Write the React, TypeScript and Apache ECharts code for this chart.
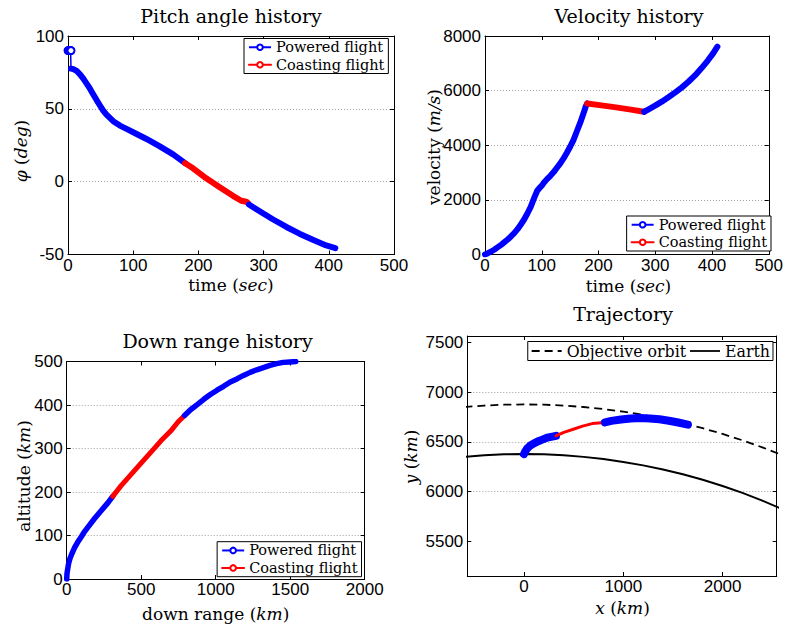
import React, { useEffect, useRef } from 'react';
import * as echarts from 'echarts';

// ---- Pitch angle history: time (s) vs pitch angle (deg) ----
const pitchLiftoffT = [0, 1, 2, 3, 4, 4.6, 4.6];
const pitchLiftoffPhi = [90, 90, 90, 90, 90, 90, 77.6];
const pitchPowered1T = [4.6, 8.2, 13.3, 18.4, 23.5, 28.6, 33.7, 38.8, 43.9, 49, 54, 59, 69.4, 79.6, 89.8, 100, 120.4, 140.8, 161.2, 179.6];
const pitchPowered1Phi = [77.6, 77.2, 76, 73.7, 70.7, 67.3, 63.8, 59.9, 56, 52.3, 48.8, 46, 41.5, 38.5, 36.2, 33.9, 29.3, 24.2, 18.7, 12.7];
const pitchCoastT = [179.6, 191.8, 212, 232.7, 253, 265.8, 273.5, 276];
const pitchCoastPhi = [12.7, 9.2, 2.3, -3.9, -9.7, -13.1, -13.8, -14.6];
const pitchPowered2T = [277.5, 294, 314, 335, 355, 375.5, 396, 410];
const pitchPowered2Phi = [-15.7, -20.3, -25.8, -31.1, -35.7, -39.9, -43.8, -45.6];

// ---- Velocity history: time (s) vs velocity (m/s) ----
const velPowered1T = [0, 5.2, 11, 16.8, 22.6, 28.4, 34.2, 40, 45.7, 51.5, 57.3, 63.1, 68.9, 74.7, 80.5, 86.3, 92, 97.9, 100.8, 103.6, 109.3, 115.2, 121, 126.7, 132.6, 138.4, 144.2, 150, 155.8, 161.5, 167.3, 173.1, 177.8, 180];
const velPowered1V = [0, 49, 110, 183, 269, 354, 452, 550, 660, 782, 928, 1099, 1282, 1502, 1746, 2052, 2333, 2479, 2540, 2626, 2760, 2882, 3017, 3175, 3334, 3517, 3725, 3945, 4189, 4494, 4800, 5142, 5435, 5532];
const velCoastT = [180, 205, 231, 254.2, 280.3];
const velCoastV = [5532, 5459, 5386, 5313, 5227];
const velPowered2T = [280.3, 289, 300.5, 312.1, 323.7, 335.3, 346.9, 358.4, 370, 381.6, 393.2, 401.9, 409.4];
const velPowered2V = [5227, 5325, 5459, 5606, 5764, 5935, 6119, 6326, 6558, 6827, 7120, 7364, 7609];

// ---- Down range history: down range (km) vs altitude (km) ----
const rangePowered1S = [0, 2, 7, 13, 22, 36, 53, 76, 98, 120, 153, 187, 231, 276, 309];
const rangePowered1H = [0, 13, 24, 36, 47, 59, 72, 86, 97, 109, 124, 139, 157, 175, 190];
const rangeCoastS = [309, 364, 431, 498, 564, 631, 698, 747, 791];
const rangeCoastH = [190, 214, 240, 266, 291, 317, 340, 361, 376];
const rangePowered2S = [791, 831, 876, 920, 964, 1009, 1053, 1098, 1142, 1187, 1231, 1276, 1320, 1364, 1409, 1453, 1498, 1538];
const rangePowered2H = [376, 389, 401, 413, 424, 434, 443, 453, 460, 468, 475, 481, 486, 491, 495, 498, 499, 500];

// ---- Trajectory in the orbital plane: x (km) vs y (km) ----
const arcX = [-600, -400, -200, 0, 200, 400, 600, 800, 1000, 1200, 1400, 1600, 1800, 2000, 2200, 2400, 2600];
const orbitY = [6851.8, 6866.4, 6875.1, 6878, 6875.1, 6866.4, 6851.8, 6831.3, 6804.9, 6772.5, 6734.0, 6689.3, 6638.3, 6580.8, 6516.7, 6445.7, 6367.7];
const earthY = [6349.7, 6365.4, 6374.9, 6378, 6374.9, 6365.4, 6349.7, 6327.6, 6299.1, 6264.1, 6222.5, 6174.0, 6118.7, 6056.3, 5986.6, 5909.2, 5824.0];
const trajPowered1X = [0, 10, 31, 60, 100, 150, 191, 237, 322];
const trajPowered1Y = [6378, 6400, 6433, 6462, 6486, 6510, 6526, 6544, 6562];
const trajCoastX = [322, 401, 496, 590, 687, 815];
const trajCoastY = [6562, 6597, 6628, 6659, 6685, 6697];
const trajPowered2X = [815, 880, 977, 1074, 1171, 1268, 1364, 1459, 1553, 1650];
const trajPowered2Y = [6697, 6712, 6726, 6736, 6740, 6737, 6728, 6714, 6696, 6675];

// ---- Axis ticks ----
const trajXTicks = [0, 1000, 2000];
const trajYTicks = [5500, 6000, 6500, 7000, 7500];

const BLUE = '#0000ff';
const RED = '#ff0000';
const SERIF = '"DejaVu Serif"';
const SANS = '"Liberation Sans"';

const pairs = (xs: number[], ys: number[]) => xs.map((x, i) => [x, ys[i]]);
const plain = (v: number) => String(v);

function band(name: string, xs: number[], ys: number[], color: string, width: number, g: number) {
  return {
    type: 'line',
    name,
    xAxisIndex: g * 2,
    yAxisIndex: g * 2,
    data: pairs(xs, ys),
    symbol: 'emptyCircle',
    symbolSize: 6,
    showSymbol: false,
    lineStyle: { color, width, cap: 'round', join: 'round' },
    itemStyle: { color },
    z: 3,
  };
}

function tickAndLabel(margin: number, custom?: number[]) {
  const tick: any = { show: true, inside: true, length: 4, lineStyle: { color: '#000', width: 1 } };
  const label: any = { show: true, margin, fontFamily: SANS, fontSize: 17, color: '#000', formatter: plain };
  if (custom) {
    tick.customValues = custom;
    label.customValues = custom;
  }
  return { tick, label };
}

function xAxes(g: number, min: number, max: number, interval?: number, custom?: number[]) {
  const { tick, label } = tickAndLabel(2, custom);
  const base: any = { type: 'value', gridIndex: g, min, max };
  if (interval !== undefined) base.interval = interval;
  const line = { show: true, onZero: false, lineStyle: { color: '#000', width: 1 } };
  return [
    { ...base, position: 'bottom', axisLine: line, axisTick: tick, axisLabel: label, splitLine: { show: false } },
    { ...base, position: 'top', axisLine: line, axisTick: tick, axisLabel: { show: false }, splitLine: { show: false } },
  ];
}

function yAxes(g: number, min: number, max: number, interval?: number, custom?: number[]) {
  const { tick, label } = tickAndLabel(4, custom);
  const base: any = { type: 'value', gridIndex: g, min, max };
  if (interval !== undefined) base.interval = interval;
  const line = { show: true, onZero: false, lineStyle: { color: '#000', width: 1 } };
  return [
    {
      ...base,
      position: 'left',
      axisLine: line,
      axisTick: tick,
      axisLabel: label,
      splitLine: {
        show: true,
        showMinLine: false,
        showMaxLine: false,
        lineStyle: { color: '#a0a0a0', width: 1, type: [1, 2] },
      },
    },
    { ...base, position: 'right', axisLine: line, axisTick: tick, axisLabel: { show: false }, splitLine: { show: false } },
  ];
}

function legendBox(pos: any, names: string[], extra: any = {}) {
  return {
    ...pos,
    orient: 'vertical',
    data: names,
    backgroundColor: '#fff',
    borderColor: '#000',
    borderWidth: 1,
    borderRadius: 0,
    padding: [0, 4, 0, 4],
    itemGap: 0,
    itemWidth: 22,
    itemHeight: 7,
    itemTextGap: 2,
    selectedMode: false,
    textStyle: { fontFamily: SERIF, fontSize: 14.5, color: '#000', lineHeight: 17.5 },
    lineStyle: { width: 2 },
    ...extra,
  };
}

const richBase = {
  r: { font: '17px "DejaVu Serif"', fill: '#000' },
  i: { font: 'italic 17px "DejaVu Serif"', fill: '#000' },
};

function title(text: string, x: number, y: number) {
  return {
    type: 'text',
    x,
    y,
    style: { text, font: '19px "DejaVu Serif"', fill: '#000', align: 'center', verticalAlign: 'middle' },
  };
}

function axisName(text: string, x: number, y: number, vertical = false) {
  return {
    type: 'text',
    x,
    y,
    rotation: vertical ? Math.PI / 2 : 0,
    style: { text, rich: richBase, font: '17px "DejaVu Serif"', fill: '#000', align: 'center', verticalAlign: 'middle' },
  };
}

export default function App() {
  const ref = useRef<HTMLDivElement>(null);

  useEffect(() => {
    if (!ref.current) return;
    const chart = echarts.init(ref.current, undefined, { renderer: 'svg' });

    const liftoff = pairs(pitchLiftoffT, pitchLiftoffPhi).map((p, i, arr) =>
      i === arr.length - 1 ? { value: p, symbol: 'none' } : p
    );

    const option: any = {
      animation: false,
      backgroundColor: '#fff',
      grid: [
        { left: 68, top: 36, width: 326, height: 218.5 },
        { left: 485, top: 36, width: 287, height: 218.5 },
        { left: 66.7, top: 361.5, width: 298, height: 217.5 },
        { left: 467.3, top: 336, width: 309.4, height: 240 },
      ],
      xAxis: [
        ...xAxes(0, 0, 500, 100),
        ...xAxes(1, 0, 500, 100),
        ...xAxes(2, 0, 2000, 500),
        ...xAxes(3, -571, 2545, undefined, trajXTicks),
      ],
      yAxis: [
        ...yAxes(0, -50, 100, 50),
        ...yAxes(1, 0, 8000, 2000),
        ...yAxes(2, 0, 500, 100),
        ...yAxes(3, 5150, 7567, undefined, trajYTicks),
      ],
      legend: [
        legendBox({ left: 244, top: 38.5 }, ['Powered flight', 'Coasting flight']),
        legendBox({ right: 15, bottom: 376 }, ['Powered flight', 'Coasting flight']),
        legendBox({ right: 424.5, bottom: 50.3 }, ['Powered flight', 'Coasting flight']),
        legendBox({ right: 13, top: 341.5 }, ['Objective orbit', 'Earth'], {
          orient: 'horizontal',
          itemWidth: 30,
          itemHeight: 8,
          itemGap: 3,
          padding: [0, 3, 0, 3],
          textStyle: { fontFamily: SERIF, fontSize: 15.8, color: '#000', lineHeight: 19 },
          lineStyle: { width: 1.8 },
          itemStyle: { opacity: 0 },
        }),
      ],
      series: [
        // pitch angle
        {
          type: 'line',
          name: 'Powered flight',
          xAxisIndex: 0,
          yAxisIndex: 0,
          data: liftoff,
          symbol: 'emptyCircle',
          symbolSize: 7,
          showSymbol: true,
          lineStyle: { color: BLUE, width: 1.5 },
          itemStyle: { color: BLUE, borderWidth: 2 },
          z: 3,
        },
        band('Powered flight', pitchPowered1T, pitchPowered1Phi, BLUE, 6, 0),
        band('Coasting flight', pitchCoastT, pitchCoastPhi, RED, 6, 0),
        band('Powered flight', pitchPowered2T, pitchPowered2Phi, BLUE, 6, 0),
        // velocity
        band('Powered flight', velPowered1T, velPowered1V, BLUE, 6, 1),
        band('Coasting flight', velCoastT, velCoastV, RED, 6, 1),
        band('Powered flight', velPowered2T, velPowered2V, BLUE, 6, 1),
        // down range
        band('Powered flight', rangePowered1S, rangePowered1H, BLUE, 5.5, 2),
        band('Coasting flight', rangeCoastS, rangeCoastH, RED, 5, 2),
        band('Powered flight', rangePowered2S, rangePowered2H, BLUE, 5.5, 2),
        // trajectory
        {
          type: 'line',
          name: 'Objective orbit',
          xAxisIndex: 6,
          yAxisIndex: 6,
          data: pairs(arcX, orbitY),
          symbol: 'none',
          lineStyle: { color: '#000', width: 1.8, type: [8, 5] },
          itemStyle: { color: '#000' },
          z: 2,
        },
        {
          type: 'line',
          name: 'Earth',
          xAxisIndex: 6,
          yAxisIndex: 6,
          data: pairs(arcX, earthY),
          symbol: 'none',
          lineStyle: { color: '#000', width: 2 },
          itemStyle: { color: '#000' },
          z: 2,
        },
        band('Ascent (burn 1)', trajPowered1X, trajPowered1Y, BLUE, 8, 3),
        band('Ascent (coast)', trajCoastX, trajCoastY, RED, 3, 3),
        band('Ascent (burn 2)', trajPowered2X, trajPowered2Y, BLUE, 8, 3),
      ],
      graphic: [
        title('Pitch angle history', 231, 16),
        title('Velocity history', 629, 16),
        title('Down range history', 217.5, 341),
        title('Trajectory', 623, 314),
        axisName('{r|time (}{i|sec}{r|)}', 231, 285),
        axisName('{i|φ} {r|(}{i|deg}{r|)}', 21, 151, true),
        axisName('{r|time (}{i|sec}{r|)}', 628.5, 286),
        axisName('{r|velocity (}{i|m/s}{r|)}', 434, 147, true),
        axisName('{r|down range (}{i|km}{r|)}', 215.7, 613.5),
        axisName('{r|altitude (}{i|km}{r|)}', 24, 476, true),
        axisName('{i|x} {r|(}{i|km}{r|)}', 622.5, 607.5),
        axisName('{i|y} {r|(}{i|km}{r|)}', 410.7, 457, true),
      ],
    };

    chart.setOption(option);
    return () => chart.dispose();
  }, []);

  return (
    <div
      ref={ref}
      style={{ position: 'fixed', left: 0, top: 0, width: 786, height: 627, background: '#fff' }}
    />
  );
}
